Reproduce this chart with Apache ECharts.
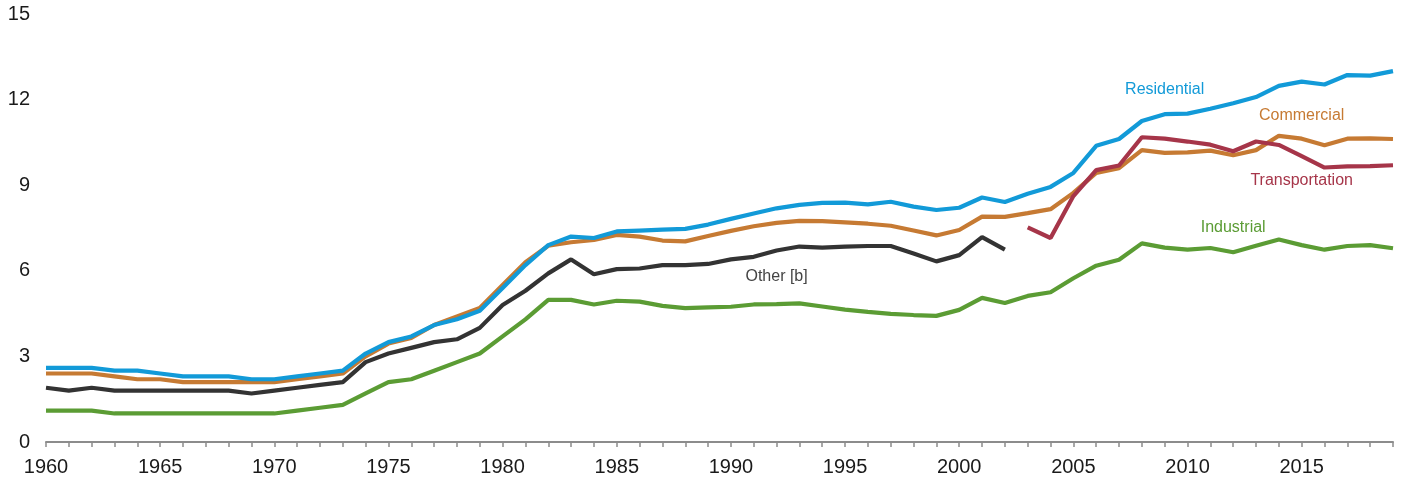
<!DOCTYPE html>
<html>
<head>
<meta charset="utf-8">
<script src="https://cdn.jsdelivr.net/npm/echarts@6/dist/echarts.min.js"></script>
<style>
  html, body { margin: 0; padding: 0; background: #fff; }
  #chart { width: 1402px; height: 482px; }
</style>
</head>
<body>
<div id="chart"></div>
<script>
var years = [];
for (var y = 1960; y <= 2019; y++) years.push(String(y));

var residential = [2.6,2.6,2.6,2.5,2.5,2.4,2.3,2.3,2.3,2.2,
  2.2,2.3,2.4,2.5,3.1,3.5,3.7,4.1,4.3,4.6,
  5.4,6.2,6.9,7.2,7.15,7.38,7.41,7.44,7.47,7.62,
  7.82,8.01,8.19,8.31,8.38,8.39,8.33,8.42,8.25,8.13,
  8.21,8.57,8.41,8.7,8.94,9.43,10.38,10.62,11.25,11.49,
  11.51,11.68,11.87,12.09,12.48,12.63,12.53,12.86,12.84,13.0];

var commercial = [2.4,2.4,2.4,2.3,2.2,2.2,2.1,2.1,2.1,2.1,
  2.1,2.2,2.3,2.4,3.0,3.45,3.65,4.1,4.4,4.7,
  5.5,6.3,6.88,7.0,7.08,7.26,7.2,7.06,7.03,7.22,
  7.4,7.56,7.68,7.75,7.74,7.7,7.65,7.58,7.41,7.24,
  7.43,7.9,7.89,8.02,8.16,8.73,9.43,9.6,10.23,10.13,
  10.15,10.21,10.05,10.23,10.73,10.63,10.4,10.63,10.64,10.62];

var transportation = [null,null,null,null,null,null,null,null,null,null,
  null,null,null,null,null,null,null,null,null,null,
  null,null,null,null,null,null,null,null,null,null,
  null,null,null,null,null,null,null,null,null,null,
  null,null,null,7.52,7.15,8.62,9.53,9.69,10.68,10.63,
  10.53,10.42,10.19,10.53,10.41,10.02,9.62,9.66,9.67,9.7];

var industrial = [1.1,1.1,1.1,1.0,1.0,1.0,1.0,1.0,1.0,1.0,
  1.0,1.1,1.2,1.3,1.7,2.1,2.2,2.5,2.8,3.1,
  3.7,4.3,4.98,4.98,4.82,4.95,4.92,4.77,4.69,4.72,
  4.74,4.82,4.83,4.86,4.75,4.64,4.56,4.49,4.45,4.42,
  4.63,5.05,4.87,5.12,5.25,5.74,6.18,6.39,6.96,6.81,
  6.74,6.8,6.65,6.88,7.1,6.9,6.74,6.87,6.9,6.79];

var other = [1.9,1.8,1.9,1.8,1.8,1.8,1.8,1.8,1.8,1.7,
  1.8,1.9,2.0,2.1,2.8,3.1,3.3,3.5,3.6,4.0,
  4.8,5.3,5.91,6.4,5.88,6.06,6.08,6.2,6.2,6.24,
  6.4,6.49,6.71,6.85,6.81,6.85,6.87,6.87,6.61,6.33,
  6.55,7.18,6.74,null,null,null,null,null,null,null,
  null,null,null,null,null,null,null,null,null,null];

var yTicks = [0, 3, 6, 9, 12, 15];

var labelNames = ['Residential', 'Commercial', 'Transportation', 'Industrial', 'Other [b]'];
var labelYears = ['2009', '2015', '2015', '2012', '1992'];
var labelValues = [12.35, 11.45, 9.15, 7.5, 5.8];

var FONT = '"Liberation Sans", Arial, sans-serif';

var colors = {
  'Residential': '#129ad8',
  'Commercial': '#c67a33',
  'Transportation': '#a63549',
  'Industrial': '#5b9c34',
  'Other [b]': '#333333'
};
var textColors = {
  'Residential': '#129ad8',
  'Commercial': '#c67a33',
  'Transportation': '#a63549',
  'Industrial': '#5b9c34',
  'Other [b]': '#444444'
};

function makeSeries(name, data) {
  var i = labelNames.indexOf(name);
  return {
    name: name,
    type: 'line',
    data: data,
    symbol: 'none',
    connectNulls: false,
    lineStyle: { width: 4.2, color: colors[name] },
    itemStyle: { color: colors[name] },
    z: name === 'Transportation' ? 5 : 3,
    markPoint: {
      symbol: 'circle',
      symbolSize: 0,
      silent: true,
      data: [{ coord: [labelYears[i], labelValues[i]] }],
      label: {
        show: true,
        position: 'inside',
        formatter: name,
        color: textColors[name],
        fontSize: 16,
        fontFamily: FONT
      }
    },
    animation: false
  };
}

var chart = echarts.init(document.getElementById('chart'));
chart.setOption({
  animation: false,
  grid: { left: 46, right: 9, top: 14, bottom: 40, containLabel: false },
  xAxis: {
    type: 'category',
    data: years,
    boundaryGap: false,
    axisLine: { show: true, lineStyle: { color: '#8c8c8c', width: 2 } },
    axisTick: { show: true, interval: 0, length: 5, lineStyle: { color: '#8c8c8c', width: 1.5 } },
    axisLabel: {
      interval: 4,
      color: '#1a1a1a',
      fontSize: 20,
      margin: 15,
      fontFamily: FONT
    },
    splitLine: { show: false }
  },
  yAxis: {
    type: 'value',
    min: yTicks[0],
    max: yTicks[yTicks.length - 1],
    interval: 3,
    axisLine: { show: false },
    axisTick: { show: false },
    splitLine: { show: false },
    axisLabel: {
      color: '#1a1a1a',
      fontSize: 20,
      margin: 16,
      fontFamily: FONT
    }
  },
  series: [
    makeSeries('Industrial', industrial),
    makeSeries('Other [b]', other),
    makeSeries('Commercial', commercial),
    makeSeries('Residential', residential),
    makeSeries('Transportation', transportation)
  ]
});
</script>
</body>
</html>
